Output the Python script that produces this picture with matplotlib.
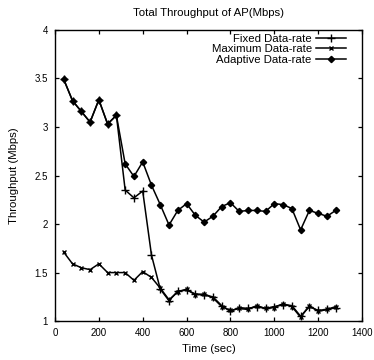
import matplotlib
matplotlib.use("Agg")
import matplotlib.pyplot as plt

# Tempo (s) e vazão (Mbps)
tempo = [40, 80, 120, 160, 200, 240, 280, 320, 360, 400, 440, 480, 520, 560, 600, 640,
         680, 720, 760, 800, 840, 880, 920, 960, 1000, 1040, 1080, 1120, 1160, 1200, 1240, 1280]

fixed_rate = [3.49, 3.27, 3.16, 3.05, 3.28, 3.03, 3.12, 2.35, 2.27, 2.34, 1.68, 1.33,
              1.21, 1.31, 1.32, 1.28, 1.27, 1.25, 1.16, 1.10, 1.14, 1.13, 1.15, 1.13,
              1.15, 1.17, 1.16, 1.05, 1.15, 1.11, 1.12, 1.14]

maximum_rate = [1.71, 1.59, 1.55, 1.53, 1.59, 1.50, 1.50, 1.50, 1.42, 1.51, 1.45, 1.34,
                1.22, 1.30, 1.33, 1.27, 1.28, 1.24, 1.15, 1.11, 1.13, 1.12, 1.16, 1.13,
                1.14, 1.18, 1.15, 1.04, 1.16, 1.10, 1.12, 1.15]

adaptive_rate = [3.49, 3.27, 3.16, 3.05, 3.28, 3.03, 3.12, 2.62, 2.49, 2.64, 2.40, 2.20,
                 1.99, 2.14, 2.21, 2.09, 2.02, 2.08, 2.18, 2.22, 2.13, 2.14, 2.14, 2.13,
                 2.21, 2.20, 2.16, 1.94, 2.14, 2.11, 2.08, 2.14]

x_ticks = [0, 200, 400, 600, 800, 1000, 1200, 1400]
y_ticks = [1, 1.5, 2, 2.5, 3, 3.5, 4]
y_labels = ["1", "1.5", "2", "2.5", "3", "3.5", "4"]

plt.rcParams['font.family'] = ['Liberation Sans', 'DejaVu Sans']

fig = plt.figure(figsize=(3.74, 3.6), dpi=100)
ax = fig.add_axes([0.147, 0.108, 0.821, 0.809])

ax.plot(tempo, fixed_rate, color='black', lw=1.1, marker='+', ms=5.5, mew=1.0,
        label='Fixed Data-rate')
ax.plot(tempo, maximum_rate, color='black', lw=1.1, marker='x', ms=3.5, mew=1.0,
        label='Maximum Data-rate')
ax.plot(tempo, adaptive_rate, color='black', lw=1.1, marker='D', ms=3.2,
        label='Adaptive Data-rate')

ax.set_xlim(0, 1400)
ax.set_ylim(1, 4)
ax.set_xticks(x_ticks)
ax.set_yticks(y_ticks)
ax.set_yticklabels(y_labels)
ax.tick_params(direction='in', top=True, right=True, labelsize=7, length=3, width=0.9, pad=5)
for s in ax.spines.values():
    s.set_linewidth(1.0)

ax.set_title('Total Throughput of AP(Mbps)', fontsize=8.2, pad=10)
ax.set_xlabel('Time (sec)', fontsize=8.2, labelpad=4)
ax.set_ylabel('Throughput (Mbps)', fontsize=8.2, labelpad=11)

ax.legend(loc='upper right', frameon=False, markerfirst=False, fontsize=8.2,
          handlelength=2.6, handletextpad=0.4, labelspacing=0.05,
          borderaxespad=0.2, bbox_to_anchor=(0.97, 1.01))

fig.savefig('out.png', dpi=100)
